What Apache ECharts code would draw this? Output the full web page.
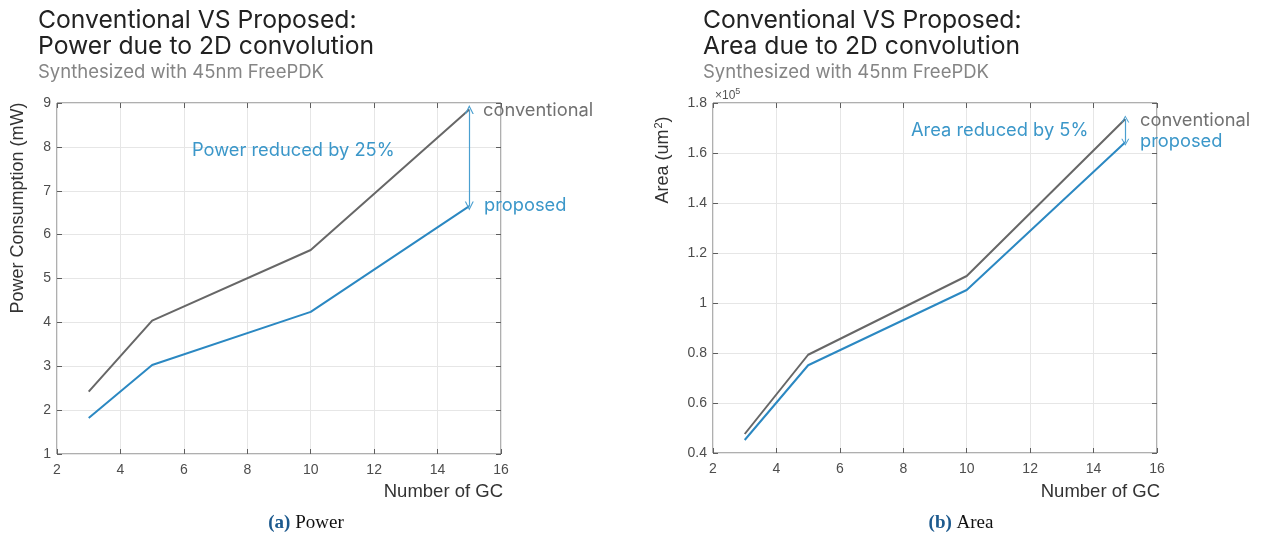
<!DOCTYPE html>
<html><head><meta charset="utf-8">
<script src="https://cdn.jsdelivr.net/npm/echarts@6/dist/echarts.min.js"></script>
<style>html,body{margin:0;padding:0;background:#fff}#c{width:1261px;height:536px}</style>
</head><body><div id="c"></div>
<script>
const gcCounts = [3, 5, 10, 15];
const powerConventional = [2.42, 4.04, 5.65, 8.85];
const powerProposed = [1.82, 3.03, 4.24, 6.65];
const areaConventional = [47600, 79300, 110800, 173600];
const areaProposed = [45200, 75100, 105200, 164300];
const xTicks = [2, 4, 6, 8, 10, 12, 14, 16];

const GRAY = '#676767', BLUE = '#2b88c2', TXTBLUE = '#3b97c9';
const chart = echarts.init(document.getElementById('c'), null, {renderer: 'canvas'});

function pairs(xs, ys) { return xs.map((x, i) => [x, ys[i]]); }

const grids = [
  {left: 57, top: 103, width: 444, height: 351, show: true, borderColor: '#5e5e5e', borderWidth: 1, backgroundColor: '#fff'},
  {left: 713, top: 103, width: 444, height: 350, show: true, borderColor: '#5e5e5e', borderWidth: 1, backgroundColor: '#fff'}
];
const tickLbl = {color: '#4d4d4d', fontSize: 14, fontFamily: 'Liberation Sans', margin: 9};
function xAx(gi, pos) {
  return {type: 'value', gridIndex: gi, position: pos, min: xTicks[0], max: xTicks[xTicks.length - 1], interval: 2,
    axisLine: {show: false}, axisTick: {show: true, inside: true, length: 5, lineStyle: {color: '#5e5e5e'}},
    axisLabel: pos === 'bottom' ? tickLbl : {show: false},
    splitLine: {show: pos === 'bottom', lineStyle: {color: '#e6e6e6'}}};
}
function yAx(gi, pos, min, max, interval, fmt) {
  return {type: 'value', gridIndex: gi, position: pos, min: min, max: max, interval: interval,
    axisLine: {show: false}, axisTick: {show: true, inside: true, length: 5, lineStyle: {color: '#5e5e5e'}},
    axisLabel: pos === 'left' ? Object.assign({formatter: fmt}, tickLbl, {margin: 6}) : {show: false},
    splitLine: {show: pos === 'left', lineStyle: {color: '#e6e6e6'}}};
}
const areaFmt = v => String(+(v / 1e5).toFixed(1));
const chevron = 'path://M0,10 L5,0 L10,10 L8.6,10 L5,2.6 L1.4,10 Z';

const arrowLine = (x, y1, y2, size) => ({
  silent: true, symbol: [chevron, chevron], symbolSize: size,
  lineStyle: {color: '#4a9fd0', width: 1.2, type: 'solid'}, itemStyle: {color: '#4a9fd0'}, label: {show: false},
  data: [[{coord: [x, y1]}, {coord: [x, y2]}]]
});

function txt(x, y, text, font, fill, extra) {
  return {type: 'text', x: x, y: y, z: 100, style: Object.assign({text: text, font: font, fill: fill, verticalAlign: 'middle'}, extra || {})};
}

chart.setOption({
  animation: false,
  grid: grids,
  xAxis: [xAx(0, 'bottom'), xAx(0, 'top'), xAx(1, 'bottom'), xAx(1, 'top')],
  yAxis: [yAx(0, 'left', 1, 9, 1), yAx(0, 'right', 1, 9, 1),
          yAx(1, 'left', 40000, 180000, 20000, areaFmt), yAx(1, 'right', 40000, 180000, 20000, areaFmt)],
  series: [
    {type: 'line', xAxisIndex: 0, yAxisIndex: 0, data: pairs(gcCounts, powerConventional), symbol: 'none',
      lineStyle: {color: GRAY, width: 2}},
    {type: 'line', xAxisIndex: 0, yAxisIndex: 0, data: pairs(gcCounts, powerProposed), symbol: 'none',
      lineStyle: {color: BLUE, width: 2},
      markLine: arrowLine(gcCounts[3], powerConventional[3], powerProposed[3], [9, 9])},
    {type: 'line', xAxisIndex: 2, yAxisIndex: 2, data: pairs(gcCounts, areaConventional), symbol: 'none',
      lineStyle: {color: GRAY, width: 2}},
    {type: 'line', xAxisIndex: 2, yAxisIndex: 2, data: pairs(gcCounts, areaProposed), symbol: 'none',
      lineStyle: {color: BLUE, width: 2},
      markLine: arrowLine(gcCounts[3], areaConventional[3], areaProposed[3], [8, 7])}
  ],
  graphic: [
    txt(38, 21, 'Conventional VS Proposed:', '24.7px Inter', '#222'),
    txt(38, 47, 'Power due to 2D convolution', '24.7px Inter', '#222'),
    txt(38, 72, 'Synthesized with 45nm FreePDK', '18.5px Inter', '#858585'),
    txt(703, 21, 'Conventional VS Proposed:', '24.7px Inter', '#222'),
    txt(703, 47, 'Area due to 2D convolution', '24.7px Inter', '#222'),
    txt(703, 72, 'Synthesized with 45nm FreePDK', '18.5px Inter', '#858585'),
    {type: 'text', x: 18, y: 208, rotation: Math.PI / 2, style: {text: 'Power Consumption (mW)', font: '18px "Liberation Sans"', fill: '#333', align: 'center', verticalAlign: 'middle'}},
    {type: 'text', x: 663, y: 160, rotation: Math.PI / 2, style: {text: 'Area (um{sup|2})', font: '18px "Liberation Sans"', fill: '#333', align: 'center', verticalAlign: 'middle',
      rich: {sup: {font: '11px "Liberation Sans"', fill: '#333', padding: [0, 0, 9, 1]}}}},
    txt(715, 96, '×10{sup|5}', '12px "Liberation Sans"', '#555', {rich: {sup: {font: '9px "Liberation Sans"', fill: '#555', padding: [0, 0, 8, 0]}}}),
    txt(503, 492, 'Number of GC', '18.5px "Liberation Sans"', '#333', {align: 'right'}),
    txt(1160, 492, 'Number of GC', '18.5px "Liberation Sans"', '#333', {align: 'right'}),
    txt(483, 111, 'conventional', '18.3px Inter', '#717171'),
    txt(484, 206, 'proposed', '18.3px Inter', TXTBLUE),
    txt(192, 151, 'Power reduced by 25%', '18.3px Inter', TXTBLUE),
    txt(1140, 121, 'conventional', '18.3px Inter', '#717171'),
    txt(1140, 142, 'proposed', '18.3px Inter', TXTBLUE),
    txt(911, 131, 'Area reduced by 5%', '18.3px Inter', TXTBLUE),
    txt(306, 523, '{b|(a)} Power', '19px "Liberation Serif"', '#111', {align: 'center',
      rich: {b: {font: 'bold 19px "Liberation Serif"', fill: '#1d5a8e'}}}),
    txt(961, 523, '{b|(b)} Area', '19px "Liberation Serif"', '#111', {align: 'center',
      rich: {b: {font: 'bold 19px "Liberation Serif"', fill: '#1d5a8e'}}})
  ]
});
</script></body></html>
